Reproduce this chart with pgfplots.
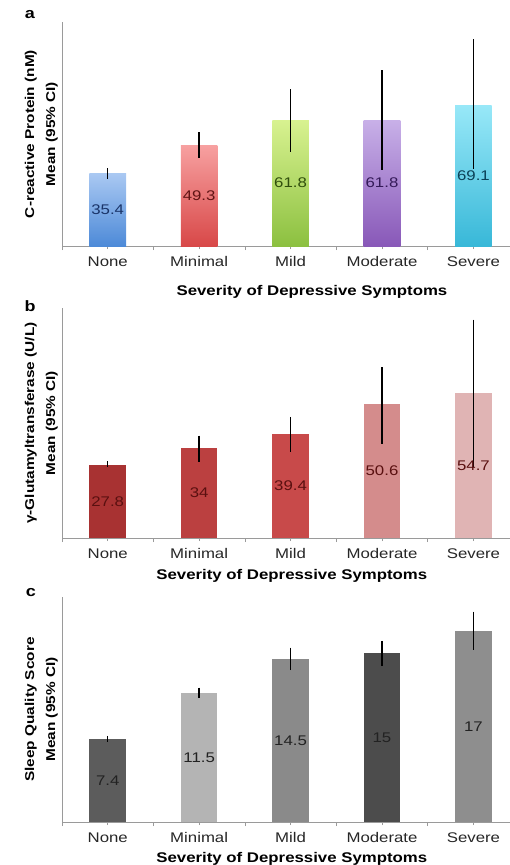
\documentclass[border=0pt]{standalone}
\usepackage{pgfplots}
\pgfplotsset{compat=1.18}
\usepackage{fontspec}
\setmainfont{Liberation Sans}[FakeStretch=1.2]
\definecolor{axgray}{HTML}{9A9A9A}
\definecolor{aAt}{HTML}{A9C8F2}\definecolor{aAb}{HTML}{4D8AD8}\definecolor{aAl}{HTML}{1A3468}
\definecolor{aBt}{HTML}{F7A0A0}\definecolor{aBb}{HTML}{D84848}\definecolor{aBl}{HTML}{601414}
\definecolor{aCt}{HTML}{D8F290}\definecolor{aCb}{HTML}{8CC040}\definecolor{aCl}{HTML}{304E0C}
\definecolor{aDt}{HTML}{C8B0E8}\definecolor{aDb}{HTML}{8858B8}\definecolor{aDl}{HTML}{341A58}
\definecolor{aEt}{HTML}{98E8F8}\definecolor{aEb}{HTML}{38B8D8}\definecolor{aEl}{HTML}{0C4258}
\definecolor{bA}{HTML}{A83232}\definecolor{bB}{HTML}{BB4040}\definecolor{bC}{HTML}{C84A4A}
\definecolor{bD}{HTML}{D48C8C}\definecolor{bE}{HTML}{E0B4B4}\definecolor{bL}{HTML}{5A1010}
\definecolor{cA}{HTML}{5C5C5C}\definecolor{cB}{HTML}{B4B4B4}\definecolor{cC}{HTML}{8A8A8A}
\definecolor{cD}{HTML}{4C4C4C}\definecolor{cE}{HTML}{8E8E8E}\definecolor{cL}{HTML}{222222}
\pgfplotsset{
  panel/.style={
    scale only axis, width=448pt,
    xmin=-0.5, xmax=4.4, ymin=0,
    axis x line*=bottom, axis y line*=left,
    axis line style={axgray, line width=0.8pt},
    xtick={0,1,2,3,4},
    xticklabels={None,Minimal,Mild,Moderate,Severe},
    minor xtick={-0.5,0.5,1.5,2.5,3.5},
    ytick=\empty,
    xtick align=outside,
    major tick length=3pt, minor tick length=4pt,
    tick style={axgray, line width=0.6pt},
    x tick label style={font=\fontsize{14}{16}\selectfont, color=black!85, yshift=-4pt},
    xlabel={Severity of Depressive Symptoms},
    xlabel style={font=\bfseries\fontsize{14}{16}\selectfont, anchor=center},
    ylabel style={at={(axis description cs:-0.046,0.5)}, anchor=center, align=center,
      font=\bfseries\fontsize{12.8}{21}\selectfont},
    clip=false,
  },
  bar/.style={ybar, bar width=0.4, bar shift=0pt, draw=none,
    error bars/y dir=both, error bars/y explicit, error bars/error mark=none,
    error bars/error bar style={black, line width=1.3pt}},
  lbl/.style={only marks, mark=none, nodes near coords, point meta=explicit symbolic,
    every node near coord/.append style={anchor=center, font=\fontsize{14}{16}\selectfont, text=#1}},
}
\begin{document}
\begin{tikzpicture}
\useasboundingbox (0,0) rectangle (510pt,-865pt);
\node[font=\bfseries\fontsize{15}{16}\selectfont] at (30pt,-15pt) {a};
\node[font=\bfseries\fontsize{15}{16}\selectfont] at (30pt,-306pt) {b};
\node[font=\bfseries\fontsize{15}{16}\selectfont] at (31pt,-593pt) {c};

% ---------------- panel a
\begin{axis}[panel, at={(62pt,-246pt)}, anchor=south west, height=224pt, ymax=110,
  ylabel={C-reactive Protein (nM)\\Mean (95\% CI)},
  xlabel style={at={(axis description cs:0.558,0)}, yshift=-46pt}]
\addplot[bar, top color=aAt, bottom color=aAb] coordinates {(0,35.4) += (0,3.0) -= (0,2.4)};
\addplot[bar, top color=aBt, bottom color=aBb] coordinates {(1,49.3) += (0,6.9) -= (0,6.0)};
\addplot[bar, top color=aCt, bottom color=aCb] coordinates {(2,61.8) += (0,15.5) -= (0,15.5)};
\addplot[bar, top color=aDt, bottom color=aDb] coordinates {(3,61.8) += (0,24.4) -= (0,24.4)};
\addplot[bar, top color=aEt, bottom color=aEb] coordinates {(4,69.1) += (0,32.4) -= (0,31.5)};
\addplot[lbl=aAl] coordinates {(0,17.7) [35.4]};
\addplot[lbl=aBl] coordinates {(1,24.65) [49.3]};
\addplot[lbl=aCl] coordinates {(2,30.9) [61.8]};
\addplot[lbl=aDl] coordinates {(3,30.9) [61.8]};
\addplot[lbl=aEl] coordinates {(4,34.55) [69.1]};
\end{axis}

% ---------------- panel b
\begin{axis}[panel, at={(62pt,-538pt)}, anchor=south west, height=230pt, ymax=87,
  ylabel={γ-Glutamyltransferase (U/L)\\Mean (95\% CI)},
  xlabel style={at={(axis description cs:0.513,0)}, yshift=-38pt}]
\addplot[bar, fill=bA] coordinates {(0,27.8) += (0,1.2) -= (0,1.0)};
\addplot[bar, fill=bB] coordinates {(1,34) += (0,4.7) -= (0,5.1)};
\addplot[bar, fill=bC] coordinates {(2,39.4) += (0,6.4) -= (0,6.8)};
\addplot[bar, fill=bD] coordinates {(3,50.6) += (0,14.0) -= (0,15.0)};
\addplot[bar, fill=bE] coordinates {(4,54.7) += (0,27.9) -= (0,27.9)};
\addplot[lbl=bL] coordinates {(0,13.9) [27.8] (1,17) [34] (2,19.7) [39.4] (3,25.3) [50.6] (4,27.35) [54.7]};
\end{axis}

% ---------------- panel c
\begin{axis}[panel, at={(62pt,-822pt)}, anchor=south west, height=225pt, ymax=20,
  ylabel={Sleep Quality Score\\Mean (95\% CI)},
  xlabel style={at={(axis description cs:0.513,0)}, yshift=-37pt}]
\addplot[bar, fill=cA] coordinates {(0,7.4) += (0,0.25) -= (0,0.25)};
\addplot[bar, fill=cB] coordinates {(1,11.5) += (0,0.45) -= (0,0.45)};
\addplot[bar, fill=cC] coordinates {(2,14.5) += (0,1.0) -= (0,1.0)};
\addplot[bar, fill=cD] coordinates {(3,15) += (0,1.1) -= (0,1.1)};
\addplot[bar, fill=cE] coordinates {(4,17) += (0,1.7) -= (0,1.7)};
\addplot[lbl=cL] coordinates {(0,3.7) [7.4] (1,5.75) [11.5] (2,7.25) [14.5] (3,7.5) [15] (4,8.5) [17]};
\end{axis}
\end{tikzpicture}
\end{document}
